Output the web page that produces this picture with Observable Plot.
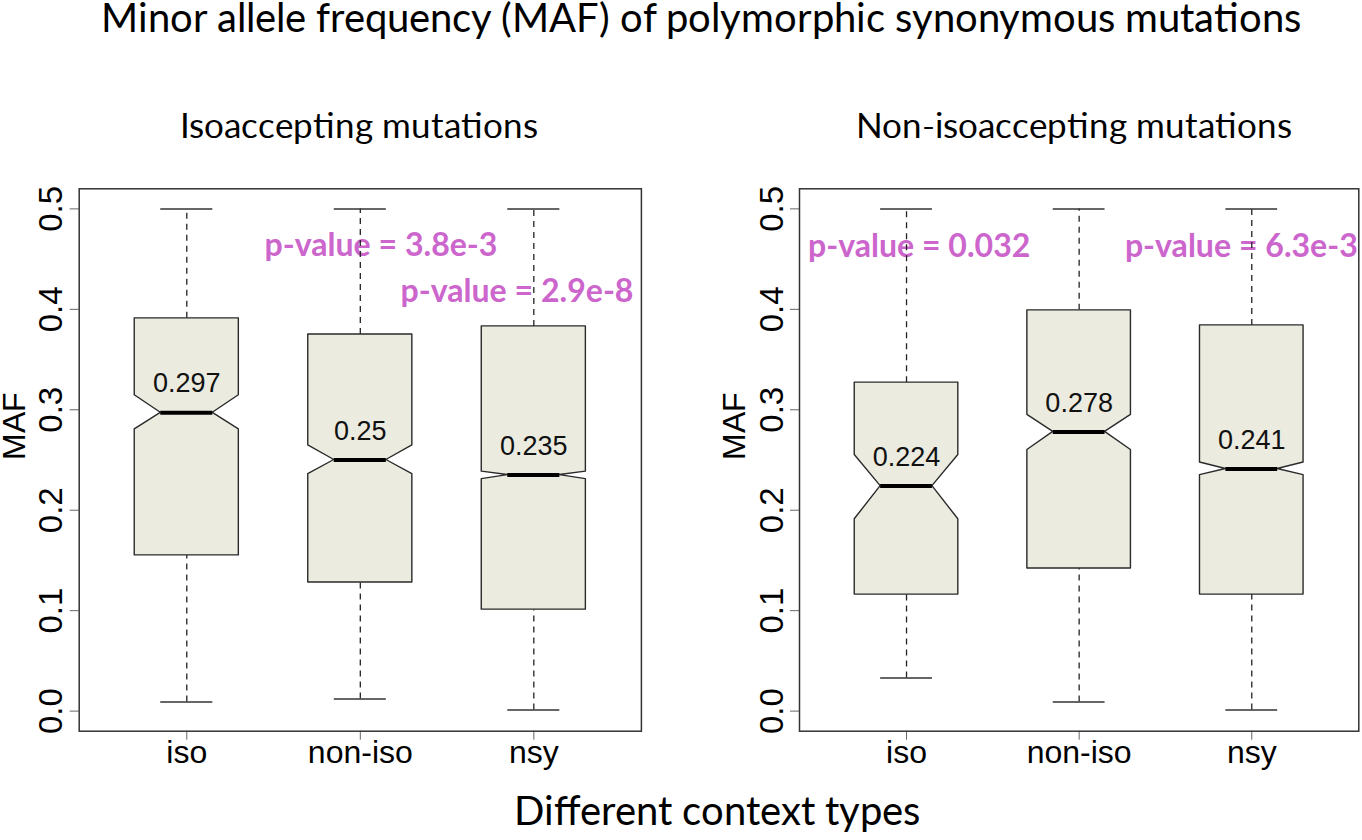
<!DOCTYPE html>
<html><head><meta charset="utf-8">
<script src="https://cdn.jsdelivr.net/npm/d3@7"></script>
<script src="https://cdn.jsdelivr.net/npm/@observablehq/plot@0.6"></script>
<style>
@font-face { font-family: "LatoTitle"; src: local("Lato Regular"), local("Lato-Regular"), local("Lato"); font-weight: 400; ascent-override: 76%; descent-override: 22%; line-gap-override: 0%; }
@font-face { font-family: "LibTight"; src: local("Liberation Sans"), local("LiberationSans"), local("Liberation Sans Regular"); font-weight: 400; ascent-override: 76%; descent-override: 22%; line-gap-override: 0%; }
html,body{margin:0;padding:0;background:#fff;}
#fig{position:relative;width:1362px;height:840px;overflow:hidden;background:#fff;}
.ttl{position:absolute;white-space:nowrap;color:#000;}
.panel{position:absolute;top:150px;}
.panel svg{overflow:visible;}
</style></head><body><div id="fig"></div>
<script>
// ---------- data ----------
const categories = ["iso", "non-iso", "nsy"];
const panelTitles = ["Isoaccepting mutations", "Non-isoaccepting mutations"];
const mainTitle = "Minor allele frequency (MAF) of polymorphic synonymous mutations";
const xTitle = "Different context types";
const yTitle = "MAF";
const yTicks = [0, 0.1, 0.2, 0.3, 0.4, 0.5];

// Isoaccepting mutations panel
const isoWhiskerLow  = [0.009, 0.012, 0.001];
const isoQ1          = [0.155, 0.128, 0.101];
const isoMedian      = [0.297, 0.25, 0.235];
const isoQ3          = [0.391, 0.375, 0.383];
const isoWhiskerHigh = [0.5, 0.5, 0.5];
const isoNotchLow    = [0.2805, 0.236, 0.231];
const isoNotchHigh   = [0.3145, 0.2646, 0.2384];
const isoPTexts      = ["p-value = 3.8e-3", "p-value = 2.9e-8"];
const isoPX          = [1.448, 2.232];
const isoPY          = [0.4535, 0.407];

// Non-isoaccepting mutations panel
const nonWhiskerLow  = [0.033, 0.009, 0.001];
const nonQ1          = [0.116, 0.142, 0.116];
const nonMedian      = [0.224, 0.278, 0.241];
const nonQ3          = [0.327, 0.399, 0.384];
const nonWhiskerHigh = [0.5, 0.5, 0.5];
const nonNotchLow    = [0.191, 0.260, 0.235];
const nonNotchHigh   = [0.255, 0.295, 0.2475];
const nonPTexts      = ["p-value = 0.032", "p-value = 6.3e-3"];
const nonPX          = [0.429, 2.265];
const nonPY          = [0.452, 0.452];

// ---------- styling ----------
const BOX_HALF = 0.3, NOTCH_HALF = 0.15, CAP_HALF = 0.15;
const P_COLOR = "#cc66cc";
const BOX_FILL = "#ebebdf";
const TITLE_FONT = "Lato";
const TITLE_FAMILY = "LatoTitle, Lato, sans-serif";
const AXIS_FONT = "'Liberation Sans', Arial, Helvetica, sans-serif";
const YLAB_FONT = "LibTight, 'Liberation Sans', Arial, sans-serif";
const ASC = 0.76, DESC = 0.22;

const fig = document.getElementById("fig");
const ctx = document.createElement("canvas").getContext("2d");
function fitSize(text, family, weight, target) {
  ctx.font = `${weight} 100px ${family}`;
  return 100 * target / ctx.measureText(text).width;
}
function place(text, size, cx, baseline) {
  const A = ASC * size, D = DESC * size;
  const el = document.createElement("div");
  el.className = "ttl";
  el.textContent = text;
  el.style.fontFamily = TITLE_FAMILY;
  el.style.fontSize = size + "px";
  el.style.lineHeight = (A + D) + "px";
  el.style.height = (A + D) + "px";
  el.style.top = (baseline - A) + "px";
  el.style.left = cx + "px";
  el.style.transform = "translateX(-50%)";
  fig.appendChild(el);
}

function makeBoxes(lo, q1, med, q3, hi, nlo, nhi) {
  return categories.map((c, i) => ({cat: c, x: i + 1, lo: lo[i], q1: q1[i], med: med[i], q3: q3[i], hi: hi[i], nlo: nlo[i], nhi: nhi[i]}));
}
function outline(bs) {
  return bs.flatMap(b => [
    {cat: b.cat, y: b.q1,  x1: b.x - BOX_HALF,   x2: b.x + BOX_HALF},
    {cat: b.cat, y: b.nlo, x1: b.x - BOX_HALF,   x2: b.x + BOX_HALF},
    {cat: b.cat, y: b.med, x1: b.x - NOTCH_HALF, x2: b.x + NOTCH_HALF},
    {cat: b.cat, y: b.nhi, x1: b.x - BOX_HALF,   x2: b.x + BOX_HALF},
    {cat: b.cat, y: b.q3,  x1: b.x - BOX_HALF,   x2: b.x + BOX_HALF}
  ]);
}

function panel(bs, pv, left, marginLeft, marginRight, pSize) {
  const chart = Plot.plot({
    width: 681, height: 640,
    marginLeft, marginRight, marginTop: 38.3, marginBottom: 59.3,
    x: {domain: [0.38, 3.62]},
    y: {domain: [-0.02, 0.52]},
    style: {fontFamily: AXIS_FONT, background: "transparent", overflow: "visible", color: "#000"},
    marks: [
      Plot.text(pv, {x: "x", y: "y", text: "text", textAnchor: "start", lineAnchor: "bottom",
        fill: P_COLOR, fontWeight: "bold", fontSize: pSize, fontFamily: TITLE_FONT}),
      Plot.ruleX(bs, {x: "x", y1: "q3", y2: "hi", stroke: "#222", strokeWidth: 1.3, strokeDasharray: "6,5"}),
      Plot.ruleX(bs, {x: "x", y1: "lo", y2: "q1", stroke: "#222", strokeWidth: 1.3, strokeDasharray: "6,5"}),
      Plot.ruleY(bs, {y: "hi", x1: d => d.x - CAP_HALF, x2: d => d.x + CAP_HALF, stroke: "#333", strokeWidth: 1.5}),
      Plot.ruleY(bs, {y: "lo", x1: d => d.x - CAP_HALF, x2: d => d.x + CAP_HALF, stroke: "#333", strokeWidth: 1.5}),
      Plot.areaX(outline(bs), {y: "y", x1: "x1", x2: "x2", z: "cat", fill: BOX_FILL, stroke: "#2a2a2a", strokeWidth: 1.4}),
      Plot.ruleY(bs, {y: "med", x1: d => d.x - NOTCH_HALF, x2: d => d.x + NOTCH_HALF, stroke: "#000", strokeWidth: 4}),
      Plot.text(bs, {x: "x", y: "med", text: d => String(d.med), dy: -29, fontSize: 27, fill: "#111"}),
      Plot.axisY({ticks: yTicks, tickFormat: d3.format(".1f"), tickRotate: -90, tickSize: 9, tickPadding: 8,
        fontSize: 33, label: null, stroke: "#666"}),
      Plot.axisX({ticks: [1, 2, 3], tickFormat: d => categories[d - 1], tickSize: 9, tickPadding: 0,
        fontSize: 32, label: null, stroke: "#666"}),
      Plot.text([yTitle], {frameAnchor: "left", dx: -54.2, rotate: -90, lineAnchor: "bottom",
        fontSize: 32, fontFamily: YLAB_FONT, fill: "#000"}),
      Plot.frame({stroke: "#333", strokeWidth: 1.5})
    ]
  });
  const wrap = document.createElement("div");
  wrap.className = "panel";
  wrap.style.left = left + "px";
  wrap.appendChild(chart);
  fig.appendChild(wrap);
}

function draw() {
  const pSize = fitSize("p-value = 3.8e-3", TITLE_FONT, "bold", 233);
  const isoBoxes = makeBoxes(isoWhiskerLow, isoQ1, isoMedian, isoQ3, isoWhiskerHigh, isoNotchLow, isoNotchHigh);
  const nonBoxes = makeBoxes(nonWhiskerLow, nonQ1, nonMedian, nonQ3, nonWhiskerHigh, nonNotchLow, nonNotchHigh);
  const isoP = isoPTexts.map((t, i) => ({text: t, x: isoPX[i], y: isoPY[i]}));
  const nonP = nonPTexts.map((t, i) => ({text: t, x: nonPX[i], y: nonPY[i]}));

  panel(isoBoxes, isoP, 0, 78.7, 40.1, pSize);
  panel(nonBoxes, nonP, 681, 118, 3.7, pSize);

  const mainSize = fitSize(mainTitle, TITLE_FAMILY, "normal", 1218);
  place(mainTitle, mainSize, 701, 33);
  const panelSize = fitSize(panelTitles[0], TITLE_FAMILY, "normal", 357);
  place(panelTitles[0], panelSize, 358.5, 138.3);
  place(panelTitles[1], panelSize, 1074, 138.3);
  const xSize = fitSize(xTitle, TITLE_FAMILY, "normal", 405);
  place(xTitle, xSize, 717, 826);
}

(async () => {
  try {
    await Promise.all([document.fonts.load("32px LatoTitle"), document.fonts.load("32px LibTight")]);
  } catch (e) {}
  draw();
})();
</script>
</body></html>
